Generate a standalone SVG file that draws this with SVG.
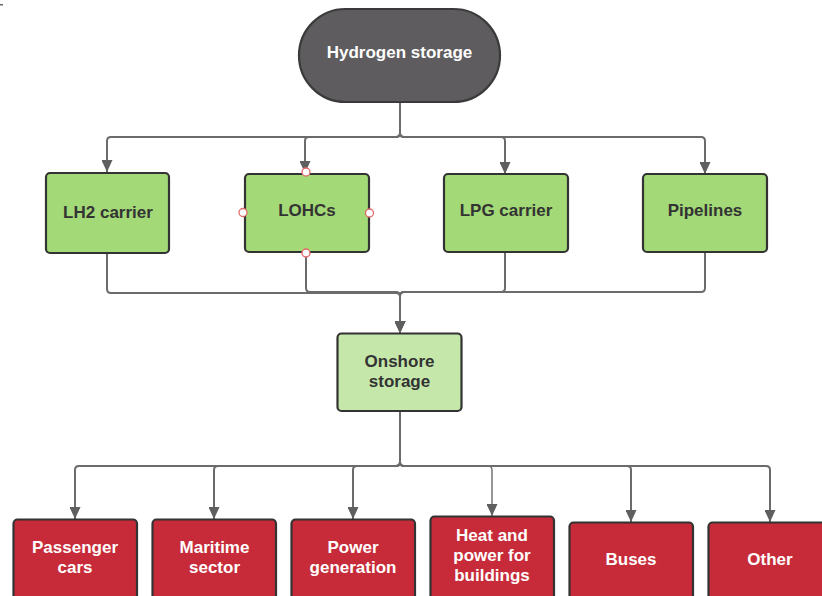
<svg xmlns="http://www.w3.org/2000/svg" width="822" height="596" viewBox="0 0 822 596">
  <style>
    .lbl { font-family: "Liberation Sans", Arial, sans-serif; font-weight: bold; font-size: 17px; text-anchor: middle; }
    .dark { fill: #333333; }
    .light { fill: #ffffff; }
    .green { fill: #a3d977; stroke: #333333; stroke-width: 2.2; }
    .pale { fill: #c5e8aa; stroke: #333333; stroke-width: 2.2; }
    .red { fill: #c72b39; stroke: #333333; stroke-width: 2.2; }
    .conn { fill: none; stroke: #6b6b6b; stroke-width: 2; }
    .port { fill: #ffffff; stroke: #e06a6a; stroke-width: 1.3; }
  </style>
  <defs>
    <marker id="arrow" markerUnits="userSpaceOnUse" markerWidth="11" markerHeight="13" refX="6" refY="13" orient="0" viewBox="0 0 12 13">
      <path d="M0,0 L12,0 L6,13 z" fill="#5f5f5f"/>
    </marker>
  </defs>

  <rect x="0" y="4" width="3" height="1.5" fill="#666666"/>

  <!-- connectors -->
  <g id="connectors">
    <path class="conn" marker-end="url(#arrow)" d="M400,102 V133 Q400,137 396,137 H111 Q107,137 107,141 V172"/>
    <path class="conn" marker-end="url(#arrow)" d="M400,102 V133 Q400,137 396,137 H309 Q305,137 305,141 V173"/>
    <path class="conn" marker-end="url(#arrow)" d="M400,102 V133 Q400,137 404,137 H501 Q505,137 505,141 V174"/>
    <path class="conn" marker-end="url(#arrow)" d="M400,102 V133 Q400,137 404,137 H701 Q705,137 705,141 V174"/>

    <path class="conn" marker-end="url(#arrow)" d="M107,254 V289 Q107,293 111,293 H396 Q400,293 400,297 V333"/>
    <path class="conn" marker-end="url(#arrow)" d="M306,252 V288 Q306,292 310,292 H396 Q400,292 400,296 V333"/>
    <path class="conn" marker-end="url(#arrow)" d="M505,252 V288 Q505,292 501,292 H404 Q400,292 400,296 V333"/>
    <path class="conn" marker-end="url(#arrow)" d="M705,252 V288 Q705,292 701,292 H404 Q400,292 400,296 V333"/>

    <path class="conn" marker-end="url(#arrow)" d="M400,411 V462 Q400,466 396,466 H79 Q75,466 75,470 V519"/>
    <path class="conn" marker-end="url(#arrow)" d="M400,411 V462 Q400,466 396,466 H218 Q214,466 214,470 V519"/>
    <path class="conn" marker-end="url(#arrow)" d="M400,411 V462 Q400,466 396,466 H357 Q353,466 353,470 V519"/>
    <path class="conn" style="stroke-width:1.4" marker-end="url(#arrow)" d="M400,411 V462 Q400,466 404,466 H488 Q492,466 492,470 V516"/>
    <path class="conn" marker-end="url(#arrow)" d="M400,411 V462 Q400,466 404,466 H627 Q631,466 631,470 V522"/>
    <path class="conn" marker-end="url(#arrow)" d="M400,411 V462 Q400,466 404,466 H766 Q770,466 770,470 V522"/>
  </g>

  <!-- root -->
  <g id="hydrogen-storage">
    <rect x="299" y="9" width="201" height="93" rx="46.5" fill="#5e5c5e" stroke="#3a3a3a" stroke-width="2.2"/>
    <text class="lbl light" x="399.5" y="58">Hydrogen storage</text>
  </g>

  <!-- carriers -->
  <g id="lh2-carrier">
    <rect class="green" x="46" y="173" width="123" height="80" rx="4"/>
    <text class="lbl dark" x="108" y="218">LH2 carrier</text>
  </g>
  <g id="lohcs">
    <rect class="green" x="245" y="174" width="124" height="78" rx="4"/>
    <text class="lbl dark" x="307" y="216">LOHCs</text>
    <circle class="port" cx="306" cy="172" r="4"/>
    <circle class="port" cx="243" cy="212.5" r="4"/>
    <circle class="port" cx="369.5" cy="213" r="4"/>
    <circle class="port" cx="306" cy="253" r="4"/>
  </g>
  <g id="lpg-carrier">
    <rect class="green" x="444" y="174" width="124" height="78" rx="4"/>
    <text class="lbl dark" x="506" y="216">LPG carrier</text>
  </g>
  <g id="pipelines">
    <rect class="green" x="643" y="174" width="124" height="78" rx="4"/>
    <text class="lbl dark" x="705" y="216">Pipelines</text>
  </g>

  <!-- storage hub -->
  <g id="onshore-storage">
    <rect class="pale" x="337.5" y="333.5" width="124" height="77.5" rx="4"/>
    <text class="lbl dark" x="399.5" y="367">Onshore</text>
    <text class="lbl dark" x="399.5" y="387">storage</text>
  </g>

  <!-- end uses -->
  <g id="passenger-cars">
    <rect class="red" x="13.5" y="519.5" width="123.5" height="90" rx="4"/>
    <text class="lbl light" x="75" y="553">Passenger</text>
    <text class="lbl light" x="75" y="573">cars</text>
  </g>
  <g id="maritime-sector">
    <rect class="red" x="152.5" y="519.5" width="123.5" height="90" rx="4"/>
    <text class="lbl light" x="214.5" y="553">Maritime</text>
    <text class="lbl light" x="214.5" y="573">sector</text>
  </g>
  <g id="power-generation">
    <rect class="red" x="291.5" y="519.5" width="123.5" height="90" rx="4"/>
    <text class="lbl light" x="353" y="553">Power</text>
    <text class="lbl light" x="353" y="573">generation</text>
  </g>
  <g id="heat-and-power">
    <rect class="red" x="430.5" y="516.5" width="123.5" height="90" rx="4"/>
    <text class="lbl light" x="492" y="541">Heat and</text>
    <text class="lbl light" x="492" y="561">power for</text>
    <text class="lbl light" x="492" y="581">buildings</text>
  </g>
  <g id="buses">
    <rect class="red" x="569.5" y="522.5" width="123.5" height="90" rx="4"/>
    <text class="lbl light" x="631" y="565">Buses</text>
  </g>
  <g id="other">
    <rect class="red" x="708.5" y="522.5" width="123.5" height="90" rx="4"/>
    <text class="lbl light" x="770" y="565">Other</text>
  </g>
</svg>
